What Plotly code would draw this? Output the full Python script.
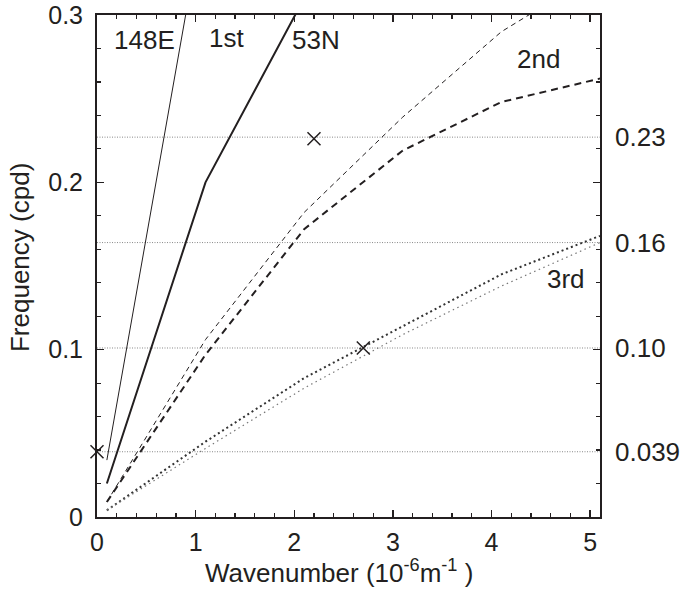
import plotly.graph_objects as go

# wavenumber grid (10^-6 m^-1)
k = [0.1, 1.1, 2.1, 3.1, 4.1, 5.1]

# 1st mode
k_1st_148E = [0.1, 1.1]
f_1st_148E = [0.034, 0.367]
k_1st_53N = [0.1, 1.1, 2.1]
f_1st_53N = [0.020, 0.200, 0.310]

# 2nd mode
f_2nd_148E = [0.009, 0.106, 0.182, 0.239, 0.290, 0.326]
f_2nd_53N = [0.009, 0.097, 0.172, 0.219, 0.248, 0.262]

# 3rd mode
f_3rd_53N = [0.004, 0.045, 0.083, 0.114, 0.145, 0.168]
f_3rd_148E = [0.004, 0.041, 0.077, 0.109, 0.138, 0.164]

# observed peaks
obs_k = [0.0, 2.2, 2.7]
obs_f = [0.039, 0.226, 0.101]

# reference frequencies
ref_f = [0.227, 0.164, 0.101, 0.039]
ref_labels = ["0.23", "0.16", "0.10", "0.039"]

# curve labels
lab_text = ["148E", "1st", "53N", "2nd", "3rd"]
lab_x = [0.48, 1.31, 2.22, 4.48, 4.76]
lab_y = [0.285, 0.2865, 0.285, 0.274, 0.1425]

ink = "#231f20"
FONT = "Liberation Sans, Arial, Helvetica, sans-serif"
FS = 26

fig = go.Figure()

fig.add_trace(go.Scatter(x=k_1st_148E, y=f_1st_148E, mode="lines",
                         line=dict(color=ink, width=1)))
fig.add_trace(go.Scatter(x=k_1st_53N, y=f_1st_53N, mode="lines",
                         line=dict(color=ink, width=2)))
fig.add_trace(go.Scatter(x=k, y=f_2nd_148E, mode="lines",
                         line=dict(color=ink, width=1, dash="5px,4px")))
fig.add_trace(go.Scatter(x=k, y=f_2nd_53N, mode="lines",
                         line=dict(color=ink, width=2, dash="7px,5px")))
fig.add_trace(go.Scatter(x=k, y=f_3rd_53N, mode="lines",
                         line=dict(color="#333333", width=2, dash="2px,3px")))
fig.add_trace(go.Scatter(x=k, y=f_3rd_148E, mode="lines",
                         line=dict(color="#777777", width=1.2, dash="1.5px,3.5px")))

fig.add_trace(go.Scatter(x=obs_k, y=obs_f, mode="markers", cliponaxis=False,
                         marker=dict(symbol="x-thin", size=13, color=ink,
                                     line=dict(color=ink, width=1.5))))

for v, t in zip(ref_f, ref_labels):
    fig.add_shape(type="line", xref="x", yref="y", x0=0, x1=5.1, y0=v, y1=v,
                  line=dict(color="#8a8a8a", width=1, dash="1px,1.5px"), layer="below")
    fig.add_annotation(x=1.025, xref="paper", y=v, yref="y", text=t,
                       showarrow=False, xanchor="left", yanchor="middle",
                       font=dict(size=FS, color=ink, family=FONT))

for t, x, y in zip(lab_text, lab_x, lab_y):
    fig.add_annotation(x=x, y=y, text=t, showarrow=False,
                       xanchor="center", yanchor="middle",
                       font=dict(size=FS, color=ink, family=FONT))

# axis titles
fig.add_annotation(x=0.481, xref="paper", y=-0.146, yref="paper",
                   text="Wavenumber (10<sup>-6</sup>m<sup>-1</sup> )",
                   showarrow=False, xanchor="center", yanchor="bottom",
                   font=dict(size=FS, color=ink, family=FONT))
fig.add_annotation(x=-0.153, xref="paper", y=0.516, yref="paper",
                   text="Frequency (cpd)", textangle=-90,
                   showarrow=False, xanchor="center", yanchor="middle",
                   font=dict(size=FS, color=ink, family=FONT))

axis_common = dict(
    showline=True, linecolor=ink, linewidth=2, mirror="allticks",
    ticks="inside", ticklen=7, tickwidth=1.5, tickcolor=ink,
    showgrid=False, zeroline=False, automargin=False,
    tickfont=dict(size=25, color=ink, family=FONT),
)

fig.update_xaxes(range=[0, 5.1], dtick=1, tick0=0,
                 minor=dict(dtick=0.2, ticks="inside", ticklen=4, tickcolor=ink, tickwidth=1.2),
                 ticklabelstandoff=2, **axis_common)
fig.update_yaxes(range=[0, 0.3], dtick=0.1, tick0=0,
                 minor=dict(dtick=0.02, ticks="inside", ticklen=4, tickcolor=ink, tickwidth=1.2),
                 ticklabelstandoff=7, **axis_common)

fig.update_layout(width=680, height=592,
                  margin=dict(l=97, r=80, t=15, b=75),
                  plot_bgcolor="white", paper_bgcolor="white",
                  showlegend=False)

# remove the default 8px page margin so the figure fills the window exactly
fig.write_html("out.html",
               config={"displayModeBar": False, "staticPlot": True},
               post_script="document.body.style.margin='0';document.body.style.overflow='hidden';")
